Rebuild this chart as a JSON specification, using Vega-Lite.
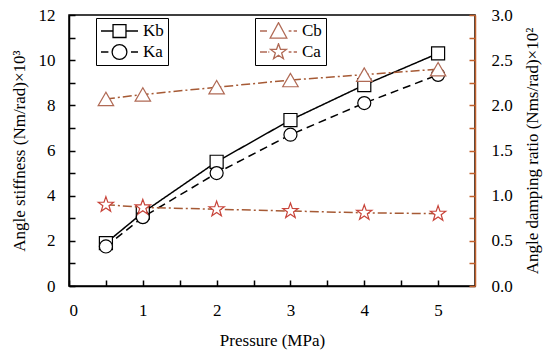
{
  "$schema": "https://vega.github.io/schema/vega-lite/v6.json",
  "width": 406,
  "height": 271,
  "autosize": {"type": "none"},
  "padding": {"left": 69, "top": 15, "right": 75, "bottom": 71},
  "background": "white",
  "config": {
    "font": "Times New Roman, Liberation Serif, serif",
    "view": {"stroke": "black", "strokeWidth": 1.5},
    "style": {"guide-label": {"font": "Times New Roman, Liberation Serif, serif"}, "guide-title": {"font": "Times New Roman, Liberation Serif, serif"}},
    "axis": {"labelFont": "Times New Roman, Liberation Serif, serif", "titleFont": "Times New Roman, Liberation Serif, serif", "labelFontSize": 17, "titleFontSize": 17, "titleFontWeight": "normal", "labelColor": "black", "titleColor": "black", "grid": false, "domainWidth": 1.5, "tickWidth": 1.5},
    "legend": {"labelFont": "Times New Roman, Liberation Serif, serif", "labelFontSize": 17, "labelColor": "black"}
  },
  "data": {"values": [
    {"p": 0.5, "v": 1.9, "series": "Kb", "g": "K"},
    {"p": 1, "v": 3.25, "series": "Kb", "g": "K"},
    {"p": 2, "v": 5.5, "series": "Kb", "g": "K"},
    {"p": 3, "v": 7.35, "series": "Kb", "g": "K"},
    {"p": 4, "v": 8.9, "series": "Kb", "g": "K"},
    {"p": 5, "v": 10.3, "series": "Kb", "g": "K"},
    {"p": 0.5, "v": 1.75, "series": "Ka", "g": "K"},
    {"p": 1, "v": 3.05, "series": "Ka", "g": "K"},
    {"p": 2, "v": 5.0, "series": "Ka", "g": "K"},
    {"p": 3, "v": 6.7, "series": "Ka", "g": "K"},
    {"p": 4, "v": 8.1, "series": "Ka", "g": "K"},
    {"p": 5, "v": 9.35, "series": "Ka", "g": "K"},
    {"p": 0.5, "v": 2.07, "series": "Cb", "g": "C"},
    {"p": 1, "v": 2.12, "series": "Cb", "g": "C"},
    {"p": 2, "v": 2.2, "series": "Cb", "g": "C"},
    {"p": 3, "v": 2.28, "series": "Cb", "g": "C"},
    {"p": 4, "v": 2.34, "series": "Cb", "g": "C"},
    {"p": 5, "v": 2.4, "series": "Cb", "g": "C"},
    {"p": 0.5, "v": 0.9, "series": "Ca", "g": "C"},
    {"p": 1, "v": 0.87, "series": "Ca", "g": "C"},
    {"p": 2, "v": 0.85, "series": "Ca", "g": "C"},
    {"p": 3, "v": 0.83, "series": "Ca", "g": "C"},
    {"p": 4, "v": 0.81, "series": "Ca", "g": "C"},
    {"p": 5, "v": 0.8, "series": "Ca", "g": "C"}
  ]},
  "encoding": {
    "x": {"field": "p", "type": "quantitative",
      "scale": {"domain": [0, 5.5], "nice": false, "zero": false},
      "axis": {"title": "Pressure (MPa)", "values": [0, 0.5, 1, 1.5, 2, 2.5, 3, 3.5, 4, 4.5, 5], "labelExpr": "datum.value % 1 === 0 ? format(datum.value, 'd') : ''", "tickSize": -6, "labelPadding": 22, "titlePadding": 14, "domainColor": "black", "tickColor": "black", "labelFont": "Times New Roman, Liberation Serif, serif", "titleFont": "Times New Roman, Liberation Serif, serif"}}
  },
  "layer": [
    {
      "transform": [{"filter": "datum.g === 'K'"}],
      "encoding": {
        "y": {"field": "v", "type": "quantitative",
          "scale": {"domain": [0, 12], "nice": false},
          "axis": {"orient": "left", "title": "Angle stiffness (Nm/rad)×10³", "values": [0,1,2,3,4,5,6,7,8,9,10,11,12], "labelExpr": "datum.value % 2 === 0 ? format(datum.value, 'd') : ''", "tickSize": -6, "labelPadding": 20, "titlePadding": 10, "domainColor": "black", "tickColor": "black", "labelFont": "Times New Roman, Liberation Serif, serif", "titleFont": "Times New Roman, Liberation Serif, serif"}}
      },
      "layer": [
        {
          "mark": {"type": "line", "color": "black", "strokeWidth": 1.5},
          "encoding": {
            "strokeDash": {"field": "series", "type": "nominal", "scale": {"domain": ["Kb", "Ka"], "range": [[1, 0], [8, 5]]}, "legend": null}
          }
        },
        {
          "mark": {"type": "point", "filled": false, "fill": "white", "fillOpacity": 1, "stroke": "black", "strokeWidth": 1.2, "opacity": 1},
          "encoding": {
            "shape": {"field": "series", "type": "nominal", "scale": {"domain": ["Kb", "Ka"], "range": ["square", "circle"]}, "legend": null},
            "size": {"value": 170}
          }
        },
        {
          "mark": {"type": "point", "opacity": 0, "color": "black", "strokeWidth": 1.3},
          "encoding": {
            "shape": {"field": "series", "type": "nominal", "scale": {"domain": ["Kb", "Ka"], "range": [
              "M-1,0L-0.35,0M0.35,0L1,0M-0.35,-0.35L0.35,-0.35L0.35,0.35L-0.35,0.35Z",
              "M-1,0L-0.6,0M0.62,0L1,0M-0.4,0A0.4,0.4 0 1,0 0.4,0A0.4,0.4 0 1,0 -0.4,0Z"
            ]},
              "legend": {"title": null, "orient": "none", "legendX": 27, "legendY": 3, "symbolSize": 1369, "clipHeight": 18, "rowPadding": 3, "padding": 4, "strokeColor": "black", "fillColor": "white", "labelOffset": 4, "symbolOpacity": 1, "symbolStrokeColor": "black", "symbolStrokeWidth": 1.3, "labelFont": "Times New Roman, Liberation Serif, serif"}
            }
          }
        }
      ],
      "resolve": {"scale": {"shape": "independent"}}
    },
    {
      "transform": [{"filter": "datum.g === 'C'"}],
      "encoding": {
        "y": {"field": "v", "type": "quantitative",
          "scale": {"domain": [0, 3], "nice": false},
          "axis": {"orient": "right", "title": "Angle damping ratio (Nms/rad)×10²", "titleAngle": 270, "values": [0,0.25,0.5,0.75,1,1.25,1.5,1.75,2,2.25,2.5,2.75,3], "labelExpr": "(datum.value * 2) % 1 === 0 ? format(datum.value, '.1f') : ''", "tickSize": -6, "labelPadding": 22, "titlePadding": 29, "domainColor": "#c0602c", "tickColor": "#c0602c", "labelFont": "Times New Roman, Liberation Serif, serif", "titleFont": "Times New Roman, Liberation Serif, serif"}}
      },
      "layer": [
        {
          "mark": {"type": "line", "color": "#a65a35", "strokeWidth": 1.5, "strokeDash": [9, 3, 2, 3]},
          "encoding": {"detail": {"field": "series", "type": "nominal"}}
        },
        {
          "mark": {"type": "point", "filled": false, "fill": "white", "fillOpacity": 1, "strokeWidth": 1.2, "opacity": 1},
          "encoding": {
            "shape": {"field": "series", "type": "nominal", "scale": {"domain": ["Cb", "Ca"], "range": ["triangle-up", "M0,-1L0.235,-0.324L0.951,-0.309L0.38,0.124L0.588,0.809L0,0.4L-0.588,0.809L-0.38,0.124L-0.951,-0.309L-0.235,-0.324Z"]}, "legend": null},
            "stroke": {"field": "series", "type": "nominal", "scale": {"domain": ["Cb", "Ca"], "range": ["#b06a55", "#c8443a"]}, "legend": null},
            "size": {"field": "series", "type": "nominal", "scale": {"domain": ["Cb", "Ca"], "range": [240, 260]}, "legend": null}
          }
        },
        {
          "mark": {"type": "point", "opacity": 0, "color": "#b06a55", "strokeWidth": 1.3},
          "encoding": {
            "shape": {"field": "series", "type": "nominal", "scale": {"domain": ["Cb", "Ca"], "range": [
              "M-1,0L-0.62,0M0.55,0L0.7,0M0.82,0L1,0M-0.45,0.38L0,-0.45L0.45,0.38Z",
              "M-1,0L-0.62,0M-0.55,0L-0.5,0M0.55,0L0.7,0M0.82,0L1,0M0,-0.45L0.106,-0.146L0.428,-0.139L0.171,0.056L0.265,0.364L0,0.18L-0.265,0.364L-0.171,0.056L-0.428,-0.139L-0.106,-0.146Z"
            ]},
              "legend": {"title": null, "orient": "none", "legendX": 186, "legendY": 3, "symbolSize": 1369, "clipHeight": 18, "rowPadding": 3, "padding": 4, "strokeColor": "black", "fillColor": "white", "labelOffset": 4, "symbolOpacity": 1, "symbolStrokeColor": "#b06a55", "symbolStrokeWidth": 1.3, "labelFont": "Times New Roman, Liberation Serif, serif"}
            }
          }
        }
      ],
      "resolve": {"scale": {"shape": "independent"}}
    }
  ],
  "resolve": {"scale": {"y": "independent", "shape": "independent"}}
}
